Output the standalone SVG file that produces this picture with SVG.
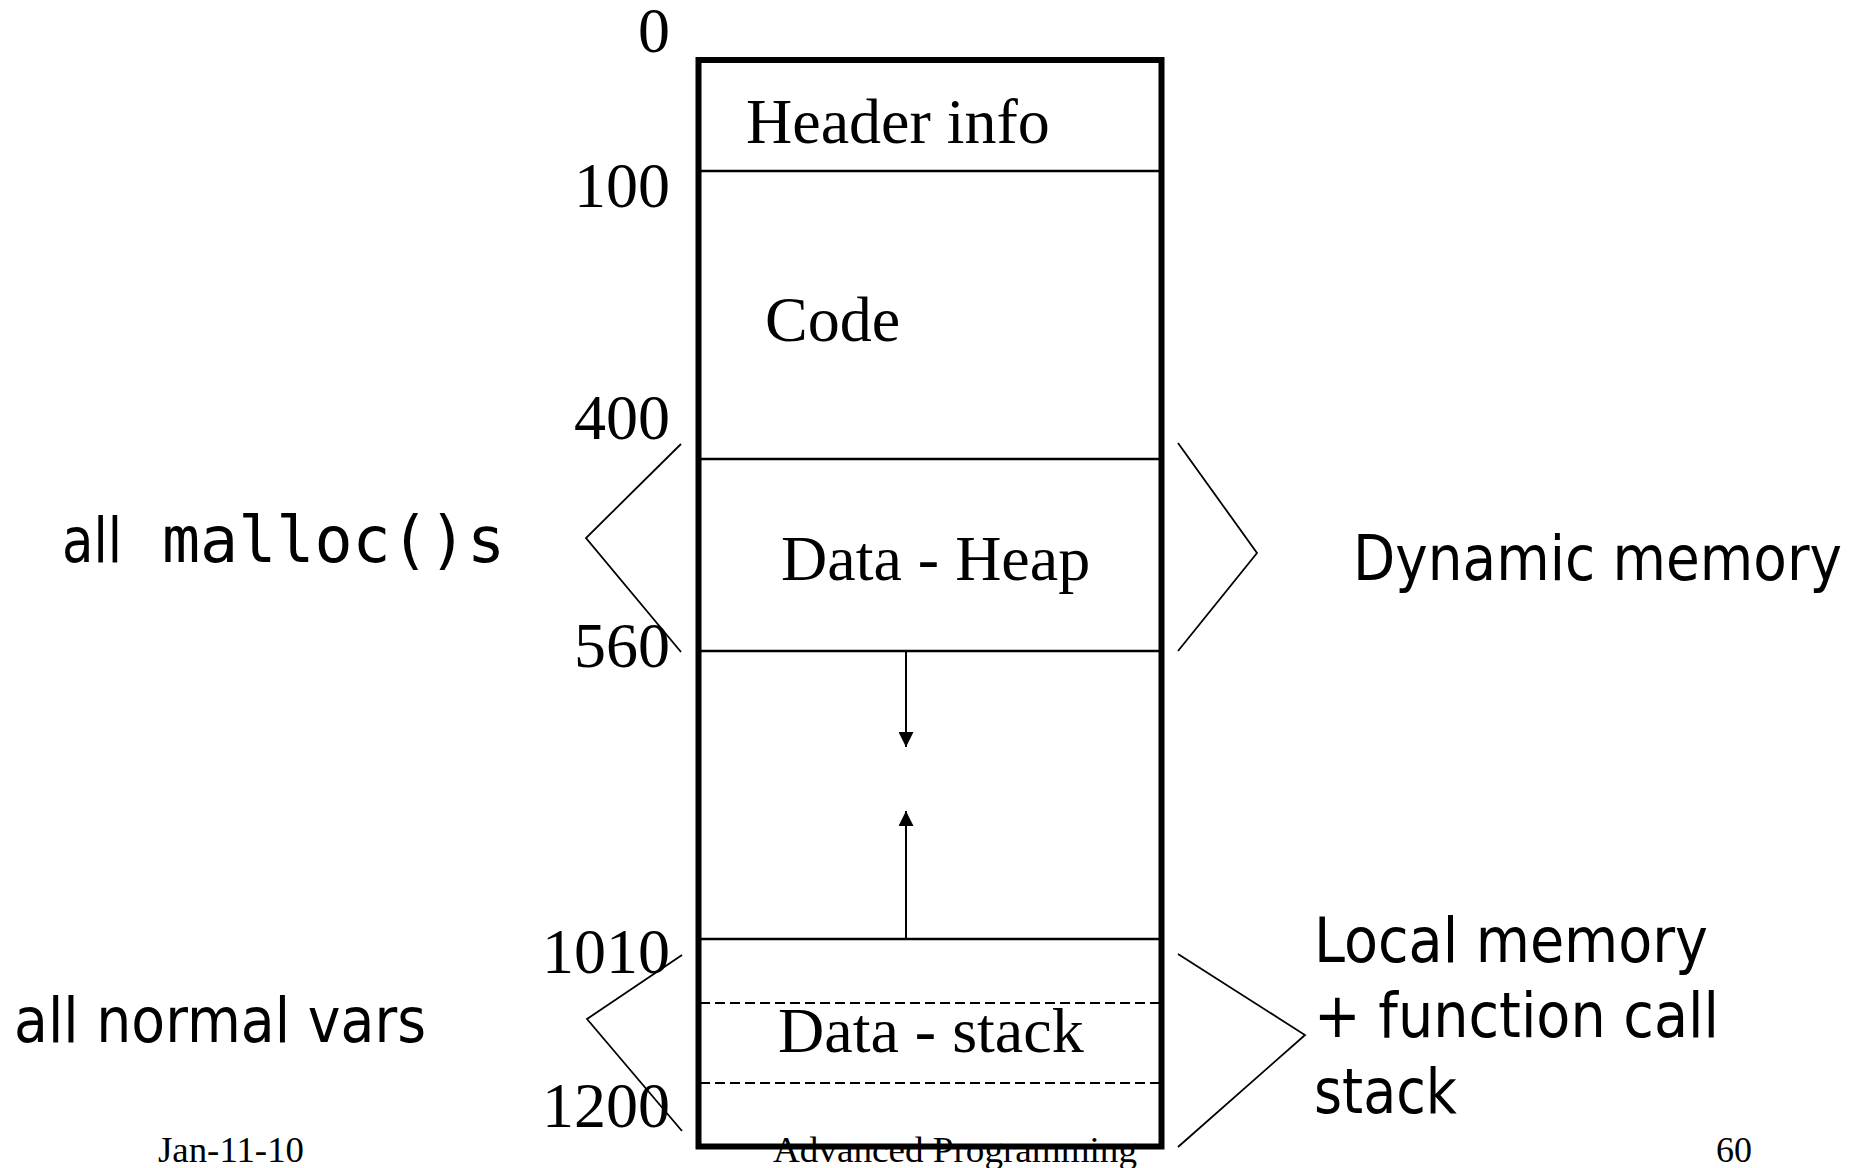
<svg xmlns="http://www.w3.org/2000/svg" width="1869" height="1168" viewBox="0 0 1869 1168">
  <style>
    .serif { font-family: "Liberation Serif", "Times New Roman", serif; font-size: 64px; fill: #000; }
    .foot { font-family: "Liberation Serif", "Times New Roman", serif; font-size: 36px; fill: #000; }
    .sans { font-family: "DejaVu Sans", Verdana, sans-serif; font-size: 63px; fill: #000; }
    .mono { font-family: "DejaVu Sans Mono", monospace; font-size: 63.5px; fill: #000; }
    .addr { text-anchor: end; }
    .divider { stroke: #000; stroke-width: 2.5; fill: none; }
    .dashed { stroke: #000; stroke-width: 2; stroke-dasharray: 10 5; fill: none; }
    .brace { stroke: #000; stroke-width: 1.8; fill: none; }
    .grow { stroke: #000; stroke-width: 2; fill: none; }
  </style>
  <defs>
    <marker id="head" viewBox="0 0 10 10" refX="10" refY="5" markerWidth="15" markerHeight="15" markerUnits="userSpaceOnUse" orient="auto">
      <path d="M0,0 L10,5 L0,10 Z" fill="#000"/>
    </marker>
  </defs>

  <rect width="1869" height="1168" fill="#fff"/>

  <!-- footer -->
  <g id="footer">
    <text class="foot" x="158" y="1162" textLength="146" lengthAdjust="spacingAndGlyphs">Jan-11-10</text>
    <text class="foot" x="773" y="1162" textLength="364" lengthAdjust="spacingAndGlyphs">Advanced Programming</text>
    <text class="foot" x="1716" y="1162">60</text>
  </g>

  <!-- address labels -->
  <g id="addresses">
    <text class="serif addr" x="670" y="52">0</text>
    <text class="serif addr" x="670" y="207">100</text>
    <text class="serif addr" x="670" y="439">400</text>
    <text class="serif addr" x="670" y="667">560</text>
    <text class="serif addr" x="670" y="973">1010</text>
    <text class="serif addr" x="670" y="1127">1200</text>
  </g>

  <!-- memory layout -->
  <g id="header-info">
    <text class="serif" x="746" y="143">Header info</text>
  </g>
  <g id="code">
    <text class="serif" x="765" y="341">Code</text>
  </g>
  <g id="data-heap">
    <text class="serif" x="781" y="580">Data - Heap</text>
  </g>
  <g id="data-stack">
    <text class="serif" x="778" y="1052">Data - stack</text>
  </g>

  <g id="segments">
    <line class="divider" x1="698" y1="171" x2="1161" y2="171"/>
    <line class="divider" x1="698" y1="459" x2="1161" y2="459"/>
    <line class="divider" x1="698" y1="651" x2="1161" y2="651"/>
    <line class="divider" x1="698" y1="939" x2="1161" y2="939"/>
    <line class="dashed" x1="700" y1="1003" x2="1159" y2="1003"/>
    <line class="dashed" x1="700" y1="1083" x2="1159" y2="1083"/>
  </g>

  <g id="memory-box">
    <rect x="698.5" y="60" width="463" height="1086.5" fill="none" stroke="#000" stroke-width="6"/>
  </g>

  <!-- growth arrows and region braces -->
  <g id="connectors">
    <line class="grow" x1="906" y1="651" x2="906" y2="747" marker-end="url(#head)"/>
    <line class="grow" x1="906" y1="939" x2="906" y2="811" marker-end="url(#head)"/>
    <polyline class="brace" points="681,444 586,538 681,652"/>
    <polyline class="brace" points="1178,443 1257,553 1178,651"/>
    <polyline class="brace" points="682,955 587,1019 682,1131"/>
    <polyline class="brace" points="1178,954 1305,1035 1178,1147"/>
  </g>

  <!-- side notes -->
  <g id="note-malloc">
    <text class="sans" x="62" y="562" textLength="60" lengthAdjust="spacingAndGlyphs">all</text>
    <text class="mono" x="162" y="562" textLength="343" lengthAdjust="spacingAndGlyphs">malloc()s</text>
  </g>
  <g id="note-normal-vars">
    <text class="sans" x="14" y="1042" textLength="412" lengthAdjust="spacingAndGlyphs">all normal vars</text>
  </g>
  <g id="note-dynamic">
    <text class="sans" x="1353" y="580" textLength="489" lengthAdjust="spacingAndGlyphs">Dynamic memory</text>
  </g>
  <g id="note-local">
    <text class="sans" x="1314" y="962" textLength="394" lengthAdjust="spacingAndGlyphs">Local memory</text>
    <text class="sans" x="1314" y="1037" textLength="405" lengthAdjust="spacingAndGlyphs">+ function call</text>
    <text class="sans" x="1314" y="1113" textLength="143" lengthAdjust="spacingAndGlyphs">stack</text>
  </g>
</svg>
